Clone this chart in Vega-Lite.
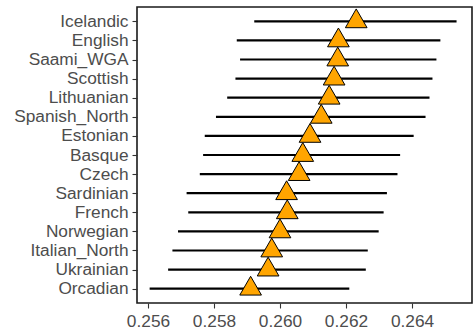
{
  "$schema": "https://vega.github.io/schema/vega-lite/v6.json",
  "autosize": {"type": "none"},
  "width": 335,
  "height": 296,
  "padding": {"left": 137, "top": 7, "right": 4, "bottom": 32},
  "background": "white",
  "config": {
    "view": {"stroke": "#1a1a1a", "strokeWidth": 1.6},
    "axis": {
      "grid": false,
      "domain": false,
      "tickColor": "#333333",
      "tickSize": 5,
      "tickWidth": 1.1,
      "labelColor": "#4D4D4D",
      "labelFont": "Liberation Sans",
      "labelFontSize": 17.3,
      "labelPadding": 4,
      "title": null
    }
  },
  "data": {
    "values": [
      {"pop": "Icelandic", "est": 0.26231, "lo": 0.25922, "hi": 0.26535},
      {"pop": "English", "est": 0.26177, "lo": 0.25869, "hi": 0.26486},
      {"pop": "Saami_WGA", "est": 0.26175, "lo": 0.25879, "hi": 0.26474},
      {"pop": "Scottish", "est": 0.26164, "lo": 0.25865, "hi": 0.26462},
      {"pop": "Lithuanian", "est": 0.26149, "lo": 0.2584, "hi": 0.26453},
      {"pop": "Spanish_North", "est": 0.26125, "lo": 0.25806, "hi": 0.26441},
      {"pop": "Estonian", "est": 0.26091, "lo": 0.25772, "hi": 0.26405},
      {"pop": "Basque", "est": 0.26069, "lo": 0.25767, "hi": 0.26364},
      {"pop": "Czech", "est": 0.26058, "lo": 0.25757, "hi": 0.26356},
      {"pop": "Sardinian", "est": 0.2602, "lo": 0.25717, "hi": 0.26324},
      {"pop": "French", "est": 0.26022, "lo": 0.25722, "hi": 0.26314},
      {"pop": "Norwegian", "est": 0.26, "lo": 0.25691, "hi": 0.26299},
      {"pop": "Italian_North", "est": 0.25975, "lo": 0.25674, "hi": 0.26266},
      {"pop": "Ukrainian", "est": 0.25964, "lo": 0.25661, "hi": 0.2626},
      {"pop": "Orcadian", "est": 0.25911, "lo": 0.25605, "hi": 0.2621}
    ]
  },
  "encoding": {
    "y": {
      "field": "pop",
      "type": "nominal",
      "sort": null,
      "scale": {"type": "point", "padding": 0.75},
      "axis": {"title": null}
    }
  },
  "layer": [
    {
      "mark": {"type": "rule", "color": "black", "strokeWidth": 2.2},
      "encoding": {
        "x": {
          "field": "lo",
          "type": "quantitative",
          "scale": {"domain": [0.255667, 0.265818], "nice": false, "zero": false},
          "axis": {"values": [0.256, 0.258, 0.26, 0.262, 0.264], "format": ".3f", "title": null}
        },
        "x2": {"field": "hi"}
      }
    },
    {
      "mark": {
        "type": "point",
        "shape": "triangle-up",
        "filled": true,
        "fill": "#FFA500",
        "stroke": "black",
        "strokeWidth": 1,
        "opacity": 1,
        "size": 470,
        "yOffset": -3
      },
      "encoding": {
        "x": {"field": "est", "type": "quantitative"}
      }
    }
  ]
}
